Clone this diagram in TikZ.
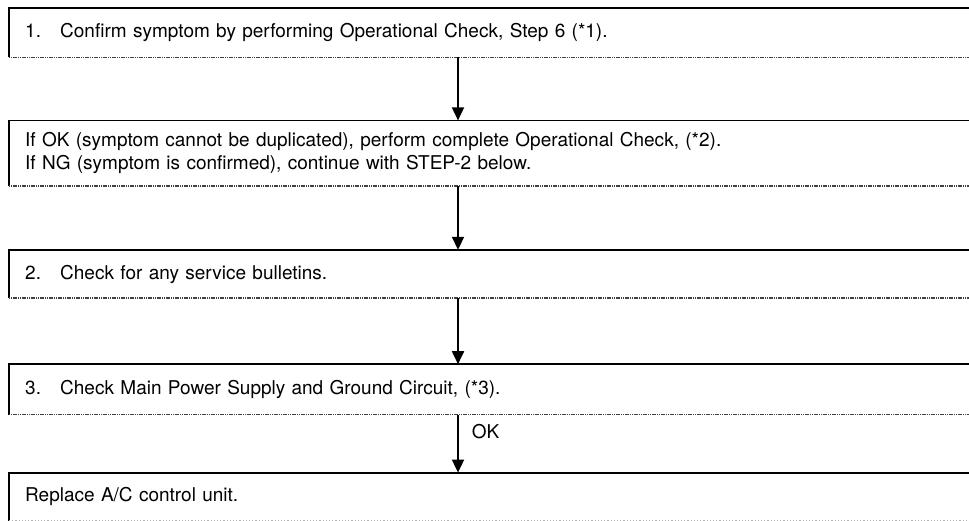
\documentclass[tikz,border=0pt]{standalone}
\usepackage{fontspec}
\setmainfont{TeX Gyre Heros}
\usetikzlibrary{arrows.meta,positioning}

\begin{document}
\begin{tikzpicture}[
  x=1pt, y=1pt,
  font=\fontsize{19}{23}\selectfont,
  stepbox/.style={minimum width=966pt, text width=934pt, inner xsep=16pt, inner ysep=0pt,
                  align=left, minimum height=49pt},
  edge/.style={line width=1.8pt, draw=black},
  rule/.style={line width=1.6pt, draw=black!75, dash pattern=on 1.2pt off 0.6pt},
  faint/.style={line width=1.2pt, draw=black!30, dotted},
  arr/.style={-{Triangle[length=13pt, width=12pt]}, line width=1.8pt, draw=black},
  lab/.style={inner sep=2pt}
]
\useasboundingbox (0,0) rectangle (969,-520);
\clip (0,0) rectangle (969,-520);

\node[stepbox, anchor=north west] (s1) at (9,-8)
  {\makebox[35pt][l]{1.}Confirm symptom by performing Operational Check, Step 6 (*1).};
\node[stepbox, minimum height=65pt, below=63pt of s1] (s2)
  {If OK (symptom cannot be duplicated), perform complete Operational Check, (*2).\\
   If NG (symptom is confirmed), continue with STEP-2 below.};
\node[stepbox, minimum height=48pt, below=64pt of s2] (s3)
  {\makebox[35pt][l]{2.}Check for any service bulletins.};
\node[stepbox, minimum height=50pt, below=66pt of s3] (s4)
  {\makebox[35pt][l]{3.}Check Main Power Supply and Ground Circuit, (*3).};
\node[stepbox, minimum height=48pt, below=58pt of s4] (s5)
  {Replace A/C control unit.};

% box outlines (open to the right)
\foreach \n in {s1,s2,s3,s4,s5}
  \draw[edge] (\n.south west) -- (\n.north west) -- (\n.north east);
\foreach \n in {s1,s2,s3,s4}
  \draw[rule] (\n.south west) -- (\n.south east);
\draw[faint] (s5.south west) -- (s5.south east);

\coordinate (flow) at (458,0);
\draw[arr] (s1.south -| flow) -- (s2.north -| flow);
\draw[arr] (s2.south -| flow) -- (s3.north -| flow);
\draw[arr] (s3.south -| flow) -- (s4.north -| flow);
\draw[arr] (s4.south -| flow) -- node[lab, pos=0.3, right=11pt] {OK} (s5.north -| flow);
\end{tikzpicture}
\end{document}
